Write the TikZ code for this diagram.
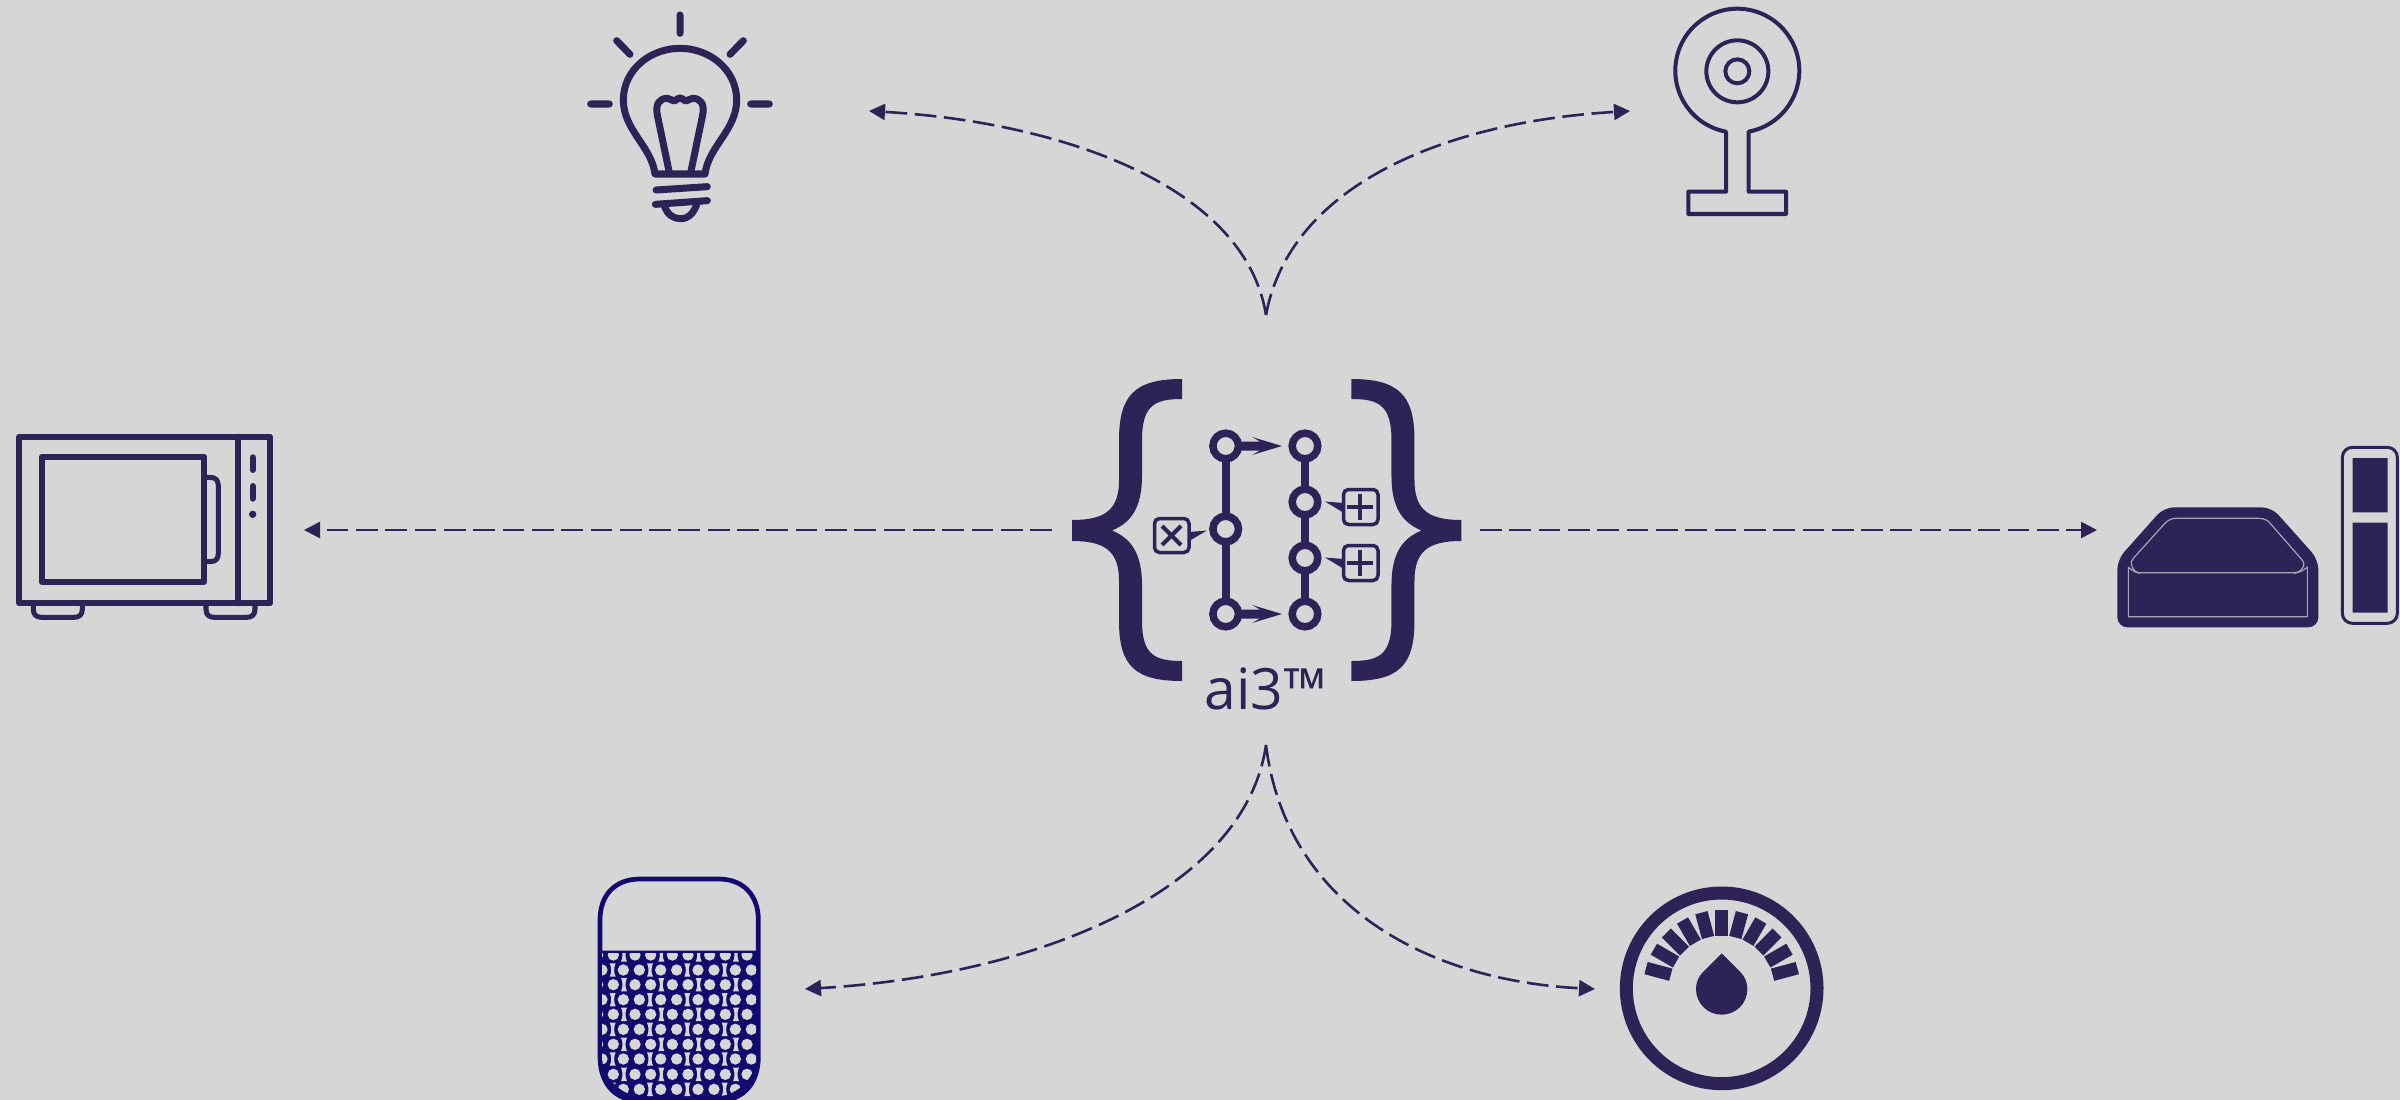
\documentclass[tikz,border=0pt]{standalone}
\usepackage{fontspec}
\setmainfont{Open Sans}
\definecolor{ink}{HTML}{2D2356}
\definecolor{paper}{HTML}{D6D6D6}
\definecolor{navy}{HTML}{120A6E}
\definecolor{seam}{HTML}{A8A4B8}
\usetikzlibrary{arrows.meta}
\tikzset{
  flow/.style={draw=ink,line width=0.026cm,dash pattern=on 0.217cm off 0.076cm,-{Triangle[length=0.16cm,width=0.16cm,fill=ink]}},
  icon/.style={draw=ink,line cap=round,line join=round},
  ringnode/.style={draw=ink,fill=paper,line width=0.075cm},
  zoomed/.style={shift={#1},scale=1/3},
}
\begin{document}
\begin{tikzpicture}[x=0.01cm,y=-0.01cm]
\useasboundingbox[fill=paper] (0,0) rectangle (2400,1100);

% connector end points
\coordinate (hubL) at (1052,530);
\coordinate (hubR) at (1480,530);
\coordinate (hubT) at (1266,315);
\coordinate (hubB) at (1266,745);
\coordinate (oven) at (304,530);
\coordinate (router) at (2097,530);
\coordinate (bulb) at (869,111);
\coordinate (cam) at (1630,111);
\coordinate (purifier) at (805,989);
\coordinate (gauge) at (1595,989);

\draw[flow] (hubL) -- (oven);
\draw[flow] (hubR) -- (router);
\draw[flow] (hubT) .. controls (1245,185) and (1060,122) .. (bulb);
\draw[flow] (hubT) .. controls (1290,185) and (1445,122) .. (cam);
\draw[flow] (hubB) .. controls (1245,890) and (1040,975) .. (purifier);
\draw[flow] (hubB) .. controls (1285,900) and (1420,980) .. (gauge);

% braces
\def\bracepath{(1182,379) .. controls (1135,379) and (1119,395) .. (1119,440) -- (1119,480)
  .. controls (1119,510) and (1105,520) .. (1072,520) -- (1072,541)
  .. controls (1105,541) and (1119,551) .. (1119,581) -- (1119,621)
  .. controls (1119,666) and (1135,681) .. (1182,681) -- (1182,661)
  .. controls (1155,661) and (1142,655) .. (1142,621) -- (1142,585)
  .. controls (1142,552) and (1130,538) .. (1112,530.5)
  .. controls (1130,523) and (1142,509) .. (1142,476) -- (1142,440)
  .. controls (1142,405) and (1155,399) .. (1182,399) -- cycle}
\fill[ink] \bracepath;
\begin{scope}[xshift=25.32cm,xscale=-1]
\fill[ink] \bracepath;
\end{scope}

% graph inside braces
\draw[ink,line width=0.08cm] (1225.7,446) -- (1225.7,614);
\draw[ink,line width=0.08cm] (1305,446) -- (1305,614);
\foreach \xx/\yy in {1225.7/446,1225.7/529,1225.7/614,1305/446,1305/502,1305/558,1305/614}
  \draw[ringnode] (\xx,\yy) circle (12.8);
\foreach \yy in {446,614}{
  \fill[ink] (1240,\yy-4.5) -- (1260,\yy-4.5) -- (1252,\yy-9) -- (1282,\yy) -- (1252,\yy+9) -- (1260,\yy+4.5) -- (1240,\yy+4.5) -- cycle;
}
% speech boxes
\draw[ink,line width=0.035cm,rounded corners=0.05cm] (1154.5,518.5) rectangle (1189,552.5);
\fill[ink] (1207,530.5) -- (1189,532) -- (1189,541) -- cycle;
\draw[ink,line width=0.04cm] (1162,526) -- (1181,545) (1181,526) -- (1162,545);
\foreach \yy in {507,563}{
  \draw[ink,line width=0.035cm,rounded corners=0.05cm] (1343.5,\yy-17.5) rectangle (1378,\yy+17.5);
  \fill[ink] (1325,\yy-5.5) -- (1344,\yy-4) -- (1344,\yy+6) -- cycle;
  \draw[ink,line width=0.04cm] (1347,\yy) -- (1373,\yy) (1360,\yy-13) -- (1360,\yy+13);
}
\node[text=ink,font=\fontsize{16.2pt}{20pt}\selectfont,anchor=base] (ai3) at (1266,709) {ai3™};

% bulb
\begin{scope}[zoomed={(560,0)}]
\draw[icon,line width=0.07cm] (360,45) -- (360,100) (170,122) -- (210,163) (550,122) -- (510,163) (92,312) -- (148,312) (572,312) -- (628,312);
\draw[icon,line width=0.07cm] (285,522) .. controls (275,440) and (190,390) .. (190,300) .. controls (190,210) and (270,145) .. (360,145) .. controls (450,145) and (530,210) .. (530,300) .. controls (530,390) and (445,440) .. (435,522) -- cycle;
\draw[icon,line width=0.07cm] (328,518) -- (292,345) .. controls (285,310) and (300,295) .. (322,295) .. controls (332,295) and (338,305) .. (345,302) .. controls (352,298) and (355,294) .. (360,294) .. controls (365,294) and (368,298) .. (375,302) .. controls (382,305) and (388,295) .. (398,295) .. controls (420,295) and (435,310) .. (428,345) -- (392,518);
\draw[icon,line width=0.07cm] (288,570) -- (442,560) (286,613) -- (442,602);
\draw[icon,line width=0.07cm] (312,615) .. controls (322,645) and (340,656) .. (362,656) .. controls (385,656) and (402,640) .. (412,608);
\end{scope}

% camera
\begin{scope}[zoomed={(1640,0)}]
\draw[icon,line width=0.04cm] (258,395) arc[start angle=100.5,end angle=439.5,radius=186] -- (326,575) -- (438,575) -- (438,642) -- (145,642) -- (145,575) -- (258,575) -- cycle;
\draw[icon,line width=0.04cm] (292,214) circle (93) (292,214) circle (36);
\end{scope}

% microwave
\begin{scope}[zoomed={(0,420)}]
\draw[icon,line width=0.06cm] (58,50) rectangle (810,550) (713,50) -- (713,550);
\draw[icon,line width=0.06cm] (125,110) rectangle (612,486);
\draw[icon,line width=0.05cm] (612,172) -- (630,172) .. controls (648,172) and (655,182) .. (655,198) -- (655,400) .. controls (655,416) and (648,425) .. (630,425) -- (612,425);
\draw[icon,line width=0.06cm] (758,112) -- (758,150) (758,198) -- (758,236);
\fill[ink] (758,283) circle (11);
\draw[icon,line width=0.05cm] (100,552) -- (100,568) .. controls (100,585) and (110,592) .. (125,592) -- (222,592) .. controls (237,592) and (247,585) .. (247,568) -- (247,552);
\draw[icon,line width=0.05cm] (618,552) -- (618,568) .. controls (618,585) and (628,592) .. (643,592) -- (740,592) .. controls (755,592) and (765,585) .. (765,568) -- (765,552);
\end{scope}

% router and side unit
\begin{scope}[zoomed={(2090,430)}]
\fill[ink,rounded corners=0.1cm] (222,232) -- (545,232) -- (685,389) -- (685,592) -- (82,592) -- (82,389) -- cycle;
\draw[seam,line width=0.012cm] (125,405) .. controls (120,400) and (125,392) .. (130,385) -- (220,285) .. controls (235,268) and (245,265) .. (260,265) -- (505,265) .. controls (525,265) and (535,272) .. (545,285) -- (632,385) .. controls (642,395) and (645,405) .. (638,413) .. controls (632,423) and (625,428) .. (612,428) -- (150,428) .. controls (135,428) and (128,418) .. (125,405);
\draw[seam,line width=0.012cm] (150,430) .. controls (135,428) and (125,420) .. (115,412) -- (115,560) -- (652,560) -- (652,412) .. controls (640,420) and (630,428) .. (612,430);
\draw[ink,line width=0.03cm,rounded corners=0.1cm] (757,52) rectangle (922,580);
\fill[ink] (788,84) rectangle (893,247) (788,278) rectangle (893,548);
\end{scope}

% purifier
\begin{scope}[zoomed={(580,860)}]
\def\shellpath{(60,180) .. controls (60,105) and (105,57) .. (180,57) -- (415,57) .. controls (490,57) and (535,105) .. (535,180) -- (535,590) .. controls (535,670) and (490,722) .. (415,722) -- (180,722) .. controls (105,722) and (60,670) .. (60,590) -- cycle}
\fill[navy] (60,272) -- (535,272) -- (535,590) .. controls (535,670) and (490,722) .. (415,722) -- (180,722) .. controls (105,722) and (60,670) .. (60,590) -- cycle;
\draw[navy,line width=0.047cm] \shellpath;
\begin{scope}
\clip (66,279) -- (529,279) -- (529,590) .. controls (529,650) and (470,708) .. (415,708) -- (180,708) .. controls (125,708) and (66,650) .. (66,590) -- cycle;
\foreach \yy in {330,419,508,597,688}{
  \foreach \xx in {-1,0,1,2,3}{
    \fill[paper] (130+112*\xx,\yy) circle (17) (178+112*\xx,\yy) circle (17);
    \fill[paper] (201+112*\xx,\yy-20) -- (219+112*\xx,\yy-20) .. controls (213+112*\xx,\yy-8) and (213+112*\xx,\yy+8) .. (219+112*\xx,\yy+20) -- (201+112*\xx,\yy+20) .. controls (207+112*\xx,\yy+8) and (207+112*\xx,\yy-8) .. (201+112*\xx,\yy-20) -- cycle;
  }
}
\foreach \yy in {285,374,463,553,643}{
  \foreach \xx in {-1,0,1,2,3}{
    \fill[paper] (100+112*\xx,\yy) circle (17) (165+112*\xx,\yy) circle (17);
    \fill[paper] (123+112*\xx,\yy-20) -- (141+112*\xx,\yy-20) .. controls (135+112*\xx,\yy-8) and (135+112*\xx,\yy+8) .. (141+112*\xx,\yy+20) -- (123+112*\xx,\yy+20) .. controls (129+112*\xx,\yy+8) and (129+112*\xx,\yy-8) .. (123+112*\xx,\yy-20) -- cycle;
  }
}
\end{scope}
\end{scope}

% gauge
\begin{scope}[zoomed={(1600,870)}]
\draw[ink,line width=0.13cm] (365,355) circle (286);
\foreach \a in {-75,-60,...,75}
  \fill[ink,rotate around={\a:(365,355)}] (346,197) rectangle (384,120);
\fill[ink] (365,250) -- (310,305) .. controls (295,320) and (288,337) .. (288,357) .. controls (288,400) and (322,434) .. (365,434) .. controls (408,434) and (442,400) .. (442,357) .. controls (442,337) and (435,320) .. (420,305) -- cycle;
\end{scope}
\end{tikzpicture}
\end{document}
